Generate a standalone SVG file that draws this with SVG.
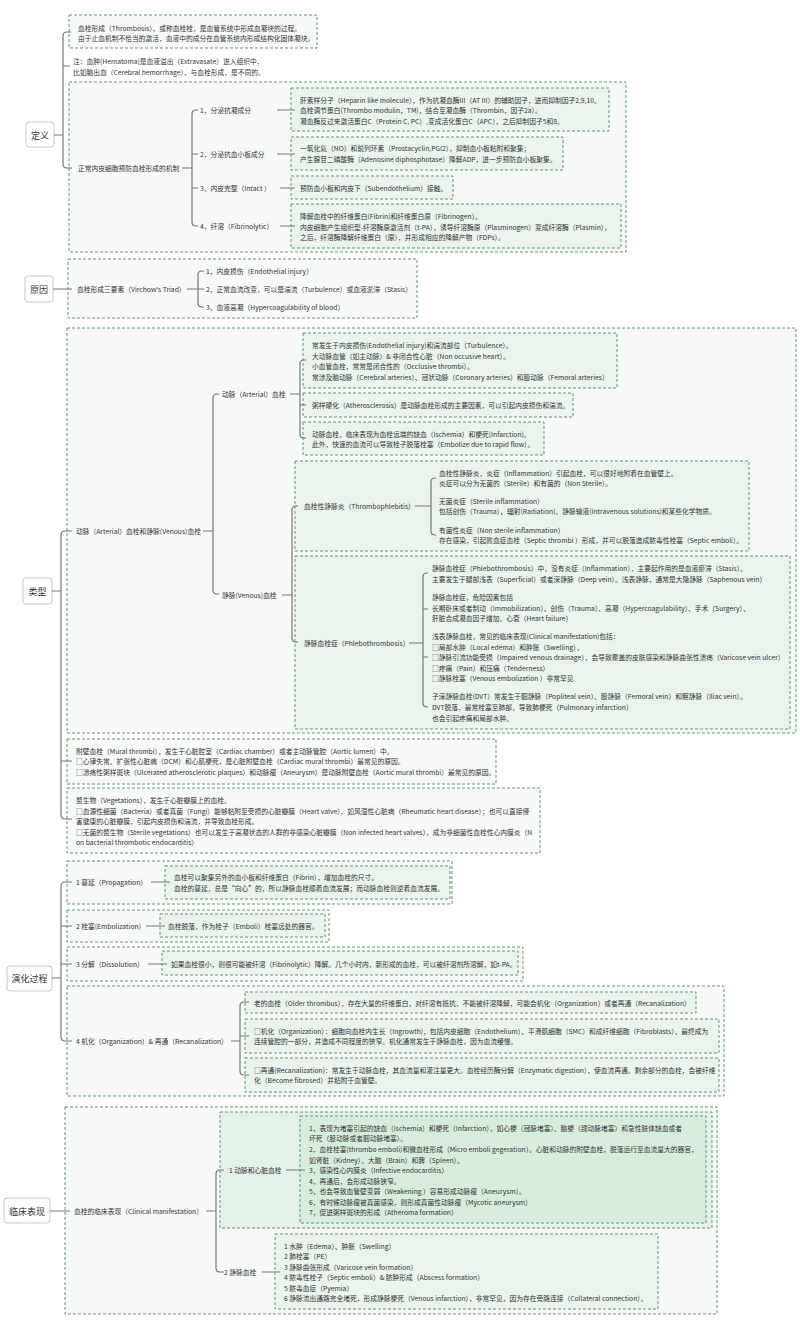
<svg xmlns="http://www.w3.org/2000/svg" width="800" height="1333" viewBox="0 0 800 1333">
<style>
.t{font-family:"Noto Sans CJK SC","Noto Sans",sans-serif;font-size:6.75px;fill:#333;dominant-baseline:central}
.r{font-size:9px;text-anchor:middle;fill:#333}
.rb{fill:#fff;stroke:#c8c8c8;stroke-width:1}
.bx{fill:#f6f9f7;stroke:#5d9a6c;stroke-width:1;stroke-dasharray:3 2}
.in{fill:#eaf4ed;stroke:#5d9a6c;stroke-width:1;stroke-dasharray:3 2}
.g1{fill:#e4f1e8;stroke:#5d9a6c;stroke-width:1;stroke-dasharray:3 2}
.g2{fill:#d8ecde;stroke:#5d9a6c;stroke-width:1;stroke-dasharray:3 2}
.c{fill:none;stroke:#777;stroke-width:1.2}
</style>
<rect width="800" height="1333" fill="#fff"/>

<!-- roots -->
<g id="root-dingyi"><rect class="rb" x="26" y="122" width="28" height="25" rx="3"/><text class="t r" x="40" y="135">定义</text></g>
<g id="root-yuanyin"><rect class="rb" x="25" y="276" width="28" height="26" rx="3"/><text class="t r" x="39" y="289">原因</text></g>
<g id="root-leixing"><rect class="rb" x="23" y="578" width="29" height="26" rx="3"/><text class="t r" x="37.5" y="591">类型</text></g>
<g id="root-yanhua"><rect class="rb" x="7" y="966" width="45" height="25" rx="3"/><text class="t r" x="29.5" y="978.5">演化过程</text></g>
<g id="root-linchuang"><rect class="rb" x="4" y="1198" width="46" height="25" rx="3"/><text class="t r" x="27" y="1211">临床表现</text></g>

<!-- 定义 -->
<g id="def-1">
<rect class="bx" x="69" y="15" width="248" height="33"/>
<text class="t" x="78" y="27.5">血栓形成（Thrombosis），或称血栓栓，是血管系统中形成血凝块的过程。</text>
<text class="t" x="78" y="37.5">由于止血机制不恰当的激活，血液中的成分在血管系统内形成结构化固体凝块。</text>
</g>
<g id="def-note">
<text class="t" x="73" y="61">注：血肿(Hematoma)是血液溢出（Extravasate）进入组织中，</text>
<text class="t" x="73" y="71.5">比如脑出血（Cerebral hemorrhage），与血栓形成，是不同的。</text>
</g>
<g id="def-mech">
<rect class="bx" x="69" y="82" width="557" height="170"/>
<text class="t" x="78" y="168">正常内皮细胞预防血栓形成的机制</text>
</g>
<g id="def-m1">
<text class="t" x="200" y="110">1，分泌抗凝成分</text>
<rect class="in" x="291" y="88" width="318" height="43"/>
<text class="t" x="300" y="99.5">肝素样分子（Heparin like molecule），作为抗凝血酶III（AT III）的辅助因子，进而抑制因子2,9,10。</text>
<text class="t" x="300" y="110">血栓调节蛋白(Thrombo modulin，TM)，结合至凝血酶（Thrombin，因子2a）。</text>
<text class="t" x="300" y="120.5">凝血酶反过来激活蛋白C（Protein C, PC）,变成活化蛋白C（APC），之后抑制因子5和8。</text>
</g>
<g id="def-m2">
<text class="t" x="200" y="154">2，分泌抗血小板成分</text>
<rect class="in" x="291" y="137" width="272" height="33"/>
<text class="t" x="300" y="148">一氧化氮（NO）和前列环素（Prostacyclin,PGI2），抑制血小板粘附和聚集；</text>
<text class="t" x="300" y="158.5">产生腺苷二磷酸酶（Adenosine diphosphotase）降解ADP，进一步预防血小板聚集。</text>
</g>
<g id="def-m3">
<text class="t" x="200" y="188">3，内皮完整（Intact ）</text>
<rect class="in" x="291" y="176" width="162" height="23"/>
<text class="t" x="300" y="188">预防血小板和内皮下（Subendothelium）接触。</text>
</g>
<g id="def-m4">
<text class="t" x="200" y="226">4，纤溶（Fibrinolytic）</text>
<rect class="in" x="291" y="204" width="330" height="44"/>
<text class="t" x="300" y="216">降解血栓中的纤维蛋白(Fibrin)和纤维蛋白原（Fibrinogen）。</text>
<text class="t" x="300" y="226.5">内皮细胞产生组织型-纤溶酶原激活剂（t-PA），诱导纤溶酶原（Plasminogen）变成纤溶酶（Plasmin），</text>
<text class="t" x="300" y="237">之后，纤溶酶降解纤维蛋白（原），并形成相应的降解产物（FDPs）。</text>
</g>

<!-- 原因 -->
<g id="cause">
<rect class="bx" x="68" y="259" width="349" height="59"/>
<text class="t" x="77" y="289">血栓形成三要素（Virchow's Triad）</text>
<text class="t" x="206" y="271">1，内皮损伤（Endothelial injury）</text>
<text class="t" x="206" y="289">2，正常血流改变，可以是湍流（Turbulence）或血液淤滞（Stasis）</text>
<text class="t" x="206" y="307">3，血液高凝（Hypercoagulability of blood）</text>
</g>

<!-- 类型 -->
<g id="type-av">
<rect class="bx" x="67" y="328" width="729" height="405"/>
<text class="t" x="76" y="531">动脉（Arterial）血栓和静脉(Venous)血栓</text>
</g>
<g id="type-arterial">
<text class="t" x="222" y="394">动脉（Arterial）血栓</text>
</g>
<g id="type-a1">
<rect class="in" x="303" y="333" width="314" height="55"/>
<text class="t" x="312" y="345">常发生于内皮损伤(Endothelial injury)和湍流部位（Turbulence）。</text>
<text class="t" x="312" y="355.5">大动脉血管（如主动脉）&amp; 非闭合性心脏（Non occusive heart）。</text>
<text class="t" x="312" y="366">小血管血栓，常常是闭合性的（Occlusive thrombi）。</text>
<text class="t" x="312" y="376.5">常涉及脑动脉（Cerebral arteries）、冠状动脉（Coronary arteries）和股动脉（Femoral arteries）</text>
</g>
<g id="type-a2">
<rect class="in" x="303" y="393" width="270" height="24"/>
<text class="t" x="312" y="405">粥样硬化（Atherosclerosis）是动脉血栓形成的主要因素，可以引起内皮损伤和湍流。</text>
</g>
<g id="type-a3">
<rect class="in" x="303" y="422" width="241" height="33"/>
<text class="t" x="312" y="433.5">动脉血栓，临床表现为血栓远端的缺血（Ischemia）和梗死(Infarction)。</text>
<text class="t" x="312" y="444">此外，快速的血流可以导致栓子脱落栓塞（Embolize due to rapid flow）。</text>
</g>
<g id="type-venous">
<text class="t" x="222" y="595">静脉(Venous)血栓</text>
</g>
<g id="type-v1">
<rect class="in" x="295" y="461" width="454" height="90"/>
<text class="t" x="304" y="506">血栓性静脉炎（Thrombophlebitis）</text>
<text class="t" x="439" y="472.5">血栓性静脉炎，炎症（Inflammation）引起血栓，可以很好地附着在血管壁上。</text>
<text class="t" x="439" y="483">炎症可以分为无菌的（Sterile）和有菌的（Non Sterile）。</text>
<text class="t" x="439" y="501">无菌炎症（Sterile inflammation）</text>
<text class="t" x="439" y="511">包括创伤（Trauma）、辐射(Radiation)、静脉输液(Intravenous solutions)和某些化学物质。</text>
<text class="t" x="439" y="529.5">有菌性炎症（Non sterile inflammation）</text>
<text class="t" x="439" y="540">存在感染，引起败血症血栓（Septic thrombi ）形成，并可以脱落造成脓毒性栓塞（Septic emboli）。</text>
</g>
<g id="type-v2">
<rect class="in" x="295" y="556" width="495" height="173"/>
<text class="t" x="304" y="643">静脉血栓症（Phlebothrombosis）</text>
<text class="t" x="432" y="568">静脉血栓症（Phlebothrombosis）中，没有炎症（Inflammation），主要起作用的是血液瘀滞（Stasis）。</text>
<text class="t" x="432" y="578.5">主要发生于腿部浅表（Superficial）或者深静脉（Deep vein）。浅表静脉，通常是大隐静脉（Saphenous vein）</text>
<text class="t" x="432" y="597">静脉血栓症，危险因素包括</text>
<text class="t" x="432" y="607.5">长期卧床或者制动（Immobilization）、创伤（Trauma）、高凝（Hypercoagulability）、手术（Surgery）、</text>
<text class="t" x="432" y="618">肝脏合成凝血因子增加、心衰（Heart failure）</text>
<text class="t" x="432" y="636">浅表静脉血栓，常见的临床表现(Clinical manifestation)包括：</text>
<text class="t" x="432" y="646.5">□局部水肿（Local edema）和肿胀（Swelling），</text>
<text class="t" x="432" y="657">□静脉引流功能受损（Impaired venous drainage），会导致覆盖的皮肤感染和静脉曲张性溃疡（Varicose vein ulcer）</text>
<text class="t" x="432" y="667.5">□疼痛（Pain）和压痛（Tenderness）</text>
<text class="t" x="432" y="678">□静脉栓塞（Venous embolization ）非常罕见</text>
<text class="t" x="432" y="695.5">子深静脉血栓(DVT）常发生于腘静脉（Popliteal vein）、股静脉（Femoral vein）和髂静脉（Iliac vein）。</text>
<text class="t" x="432" y="706.5">DVT脱落，最常栓塞至肺部，导致肺梗死（Pulmonary infarction）</text>
<text class="t" x="432" y="717.5">也会引起疼痛和局部水肿。</text>
</g>
<g id="type-mural">
<rect class="bx" x="67" y="739" width="429" height="45"/>
<text class="t" x="76" y="750.5">附壁血栓（Mural thrombi），发生于心脏腔室（Cardiac chamber）或者主动脉管腔（Aortic lumen）中。</text>
<text class="t" x="76" y="761">□心律失常、扩张性心脏病（DCM）和心肌梗死，是心脏附壁血栓（Cardiac mural thrombi）最常见的原因。</text>
<text class="t" x="76" y="771.5">□溃疡性粥样斑块（Ulcerated atherosclerotic plaques）和动脉瘤（Aneurysm）是动脉附壁血栓（Aortic mural thrombi）最常见的原因。</text>
</g>
<g id="type-veg">
<rect class="bx" x="67" y="788" width="473" height="65"/>
<text class="t" x="76" y="800">赘生物（Vegetations），发生于心脏瓣膜上的血栓。</text>
<text class="t" x="76" y="810.5">□血源性细菌（Bacteria）或者真菌（Fungi）能够粘附至受损的心脏瓣膜（Heart valve），如风湿性心脏病（Rheumatic heart disease）；也可以直接侵</text>
<text class="t" x="76" y="821">害健康的心脏瓣膜，引起内皮损伤和湍流，并导致血栓形成。</text>
<text class="t" x="76" y="831.5">□无菌的赘生物（Sterile vegetations）也可以发生于高凝状态的人群的非感染心脏瓣膜（Non infected heart valves），成为非细菌性血栓性心内膜炎（N</text>
<text class="t" x="76" y="842">on bacterial thrombotic endocarditis）</text>
</g>

<!-- 演化过程 -->
<g id="evo-1">
<rect class="bx" x="67" y="861" width="385" height="43"/>
<text class="t" x="76" y="882">1 蔓延（Propagation）</text>
<rect class="in" x="165" y="866" width="285" height="33"/>
<text class="t" x="174" y="877">血栓可以聚集另外的血小板和纤维蛋白（Fibrin），增加血栓的尺寸。</text>
<text class="t" x="174" y="887.5">血栓的蔓延，总是“向心”的，所以静脉血栓顺着血流发展；而动脉血栓则逆着血流发展。</text>
</g>
<g id="evo-2">
<rect class="bx" x="67" y="910" width="262" height="32"/>
<text class="t" x="76" y="926">2 栓塞(Embolization)</text>
<rect class="in" x="160" y="914" width="165" height="23"/>
<text class="t" x="168" y="925.5">血栓脱落，作为栓子（Emboli）栓塞远处的器官。</text>
</g>
<g id="evo-3">
<rect class="bx" x="67" y="947" width="456" height="34"/>
<text class="t" x="76" y="964">3 分解（Dissolution）</text>
<rect class="in" x="162" y="951" width="356" height="24"/>
<text class="t" x="171" y="963.5">如果血栓很小，则很可能被纤溶（Fibrinolytic）降解。几个小时内，新形成的血栓，可以被纤溶剂所溶解，如t-PA。</text>
</g>
<g id="evo-4">
<rect class="bx" x="67" y="986" width="657" height="110"/>
<text class="t" x="76" y="1041">4 机化（Organization）&amp; 再通（Recanalization）</text>
</g>
<g id="evo-4a">
<rect class="in" x="245" y="992" width="451" height="21"/>
<text class="t" x="254" y="1002.5">老的血栓（Older thrombus），存在大量的纤维蛋白，对纤溶有抵抗，不能被纤溶降解，可能会机化（Organization）或者再通（Recanalization）</text>
</g>
<g id="evo-4b">
<rect class="in" x="245" y="1019" width="474" height="34"/>
<text class="t" x="254" y="1030.5">□机化（Organization）：细胞向血栓内生长（Ingrowth)，包括内皮细胞（Endothelium）、平滑肌细胞（SMC）和成纤维细胞（Fibroblasts），最终成为</text>
<text class="t" x="254" y="1041">连续管腔的一部分，并造成不同程度的狭窄。机化通常发生于静脉血栓，因为血流缓慢。</text>
</g>
<g id="evo-4c">
<rect class="in" x="245" y="1058" width="474" height="34"/>
<text class="t" x="254" y="1069.5">□再通(Recanalization)：常发生于动脉血栓，其血流量和灌注量更大。血栓经历酶分解（Enzymatic digestion），使血流再通。剩余部分的血栓，会被纤维</text>
<text class="t" x="254" y="1080">化（Become fibrosed）并粘附于血管壁。</text>
</g>

<!-- 临床表现 -->
<g id="clin">
<rect class="bx" x="65" y="1107" width="652" height="207"/>
<text class="t" x="74" y="1211">血栓的临床表现（Clinical manifestation）</text>
</g>
<g id="clin-1">
<rect class="g1" x="220" y="1112" width="492" height="116"/>
<text class="t" x="229" y="1170">1 动脉和心脏血栓</text>
<rect class="g2" x="300" y="1116" width="406" height="107"/>
<text class="t" x="309" y="1127.5">1，表现为堵塞引起的缺血（Ischemia）和梗死（Infarction），如心梗（冠脉堵塞）、脑梗（颈动脉堵塞）和急性肢体缺血或者</text>
<text class="t" x="309" y="1138">坏死（股动脉或者腘动脉堵塞）。</text>
<text class="t" x="309" y="1149">2，血栓栓塞(thrombo emboli)和微血栓形成（Micro emboli gegeration）。心脏和动脉的附壁血栓，脱落运行至血流量大的器官，</text>
<text class="t" x="309" y="1159.5">如肾脏（Kidney）、大脑（Brain）和脾（Spleen）。</text>
<text class="t" x="309" y="1170">3，感染性心内膜炎（Infective endocarditis）</text>
<text class="t" x="309" y="1180.5">4，再通后，会形成动脉狭窄。</text>
<text class="t" x="309" y="1191">5，也会导致血管壁变弱（Weakening ）容易形成动脉瘤（Aneurysm）。</text>
<text class="t" x="309" y="1201.5">6，有时候动脉瘤被真菌感染，则形成真菌性动脉瘤（Mycotic aneurysm）</text>
<text class="t" x="309" y="1212">7，促进粥样斑块的形成（Atheroma formation）</text>
</g>
<g id="clin-2">
<text class="t" x="224" y="1272">2 静脉血栓</text>
<rect class="in" x="275" y="1234" width="383" height="75"/>
<text class="t" x="284" y="1245.5">1 水肿（Edema）、肿胀（Swelling）</text>
<text class="t" x="284" y="1256">2 肺栓塞（PE）</text>
<text class="t" x="284" y="1266.5">3 静脉曲张形成（Varicose vein formation）</text>
<text class="t" x="284" y="1277">4 脓毒性栓子（Septic emboli）&amp; 脓肿形成（Abscess formation）</text>
<text class="t" x="284" y="1287.5">5 脓毒血症（Pyemia）</text>
<text class="t" x="284" y="1298">6 静脉流出通路完全堵死，形成静脉梗死（Venous infarction），非常罕见，因为存在旁路连接（Collateral connection）。</text>
</g>

<g id="connectors">
<!-- 定义 -->
<path class="c" d="M54,135 H63 M71,32 H67 Q63,32 63,36 V164 Q63,168 67,168 H72 M63,66 H70"/>
<path class="c" d="M182,168 H192 M198,110 H196 Q192,110 192,114 V222 Q192,226 196,226 H198 M192,154 H198 M192,188 H198"/>
<path class="c" d="M277,110 H295 M277,154 H295 M280,188 H295 M280,226 H295"/>
<!-- 原因 -->
<path class="c" d="M53,289 H72 M187,289 H198 M204,271 H202 Q198,271 198,275 V303 Q198,307 202,307 H204 M198,289 H204"/>
<!-- 类型 -->
<path class="c" d="M52,591 H61 M72,531 H65 Q61,531 61,535 V815 Q61,819 65,819 H72 M61,761 H72"/>
<path class="c" d="M203,531 H213 M219,394 H217 Q213,394 213,398 V590 Q213,594 217,594 H219"/>
<path class="c" d="M290,394 H300 M306,360 H304 Q300,360 300,364 V434 Q300,438 304,438 H306 M300,405 H306"/>
<path class="c" d="M282,595 H292 M298,506 H296 Q292,506 292,510 V638 Q292,642 296,642 H298"/>
<path class="c" d="M415,506 H431 M436,478 H435 Q431,478 431,482 V531 Q431,535 435,535 H436"/>
<path class="c" d="M409,643 H423 M428,573 H427 Q423,573 423,577 V703 Q423,707 427,707 H428 M423,609 H428 M423,657 H428"/>
<!-- 演化过程 -->
<path class="c" d="M52,978 H61 M72,882 H65 Q61,882 61,886 V1037 Q61,1041 65,1041 H72 M61,926 H72 M61,964 H72"/>
<path class="c" d="M151,882 H170 M146,926 H165 M148,964 H167"/>
<path class="c" d="M231,1041 H240 M249,1002 H244 Q240,1002 240,1006 V1071 Q240,1075 244,1075 H249 M240,1036 H249"/>
<!-- 临床表现 -->
<path class="c" d="M50,1211 H70 M206,1211 H216 M224,1170 H220 Q216,1170 216,1174 V1268 Q216,1272 220,1272 H224"/>
<path class="c" d="M286,1170 H305 M262,1272 H280"/>
</g>
</svg>
